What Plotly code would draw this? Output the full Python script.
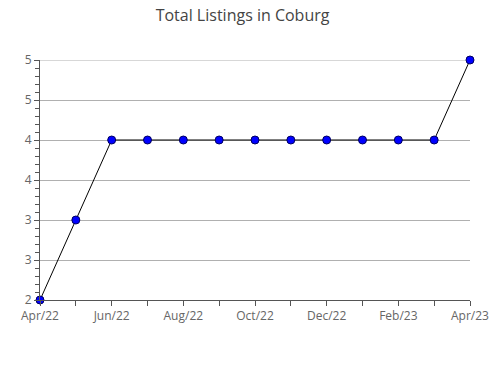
import plotly.graph_objects as go

months = ["Apr/22", "May/22", "Jun/22", "Jul/22", "Aug/22", "Sep/22", "Oct/22",
          "Nov/22", "Dec/22", "Jan/23", "Feb/23", "Mar/23", "Apr/23"]
listings = [2, 3, 4, 4, 4, 4, 4, 4, 4, 4, 4, 4, 5]
y_tickvals = [2, 2.5, 3, 3.5, 4, 4.5, 5]
y_ticktext = ["2", "3", "3", "4", "4", "5", "5"]
x_idx = list(range(len(months)))
x_ticktext = [m if i % 2 == 0 else "" for i, m in enumerate(months)]

fig = go.Figure()
fig.add_trace(go.Scatter(
    x=x_idx, y=listings, mode="lines+markers",
    line=dict(color="black", width=1),
    marker=dict(size=8, color="#0000ff", line=dict(color="#000060", width=1)),
    cliponaxis=False, showlegend=False,
))

# top gridline (plotly hides the gridline at the axis edge)
fig.add_shape(type="line", xref="paper", yref="y", x0=0, x1=1,
              y0=y_tickvals[-1], y1=y_tickvals[-1],
              line=dict(color="#b0b0b0", width=1), layer="below")

fig.update_layout(
    width=490, height=380,
    margin=dict(l=40, r=20, t=60, b=80, autoexpand=False),
    paper_bgcolor="white", plot_bgcolor="white",
    font=dict(family="Open Sans", color="#666666", size=12),
    title=dict(text="Total Listings in Coburg", x=0.495, xanchor="center",
               y=0.96, yanchor="middle",
               font=dict(family="Open Sans", size=16, color="#444444")),
    xaxis=dict(range=[0, 12], tickvals=x_idx, ticktext=x_ticktext,
               ticks="outside", ticklen=5, tickcolor="#555555",
               showline=True, linecolor="#555555", linewidth=1,
               showgrid=False, zeroline=False, fixedrange=True, automargin=False),
    yaxis=dict(range=[2, 5], tickvals=y_tickvals, ticktext=y_ticktext,
               ticks="outside", ticklen=5, tickcolor="#555555",
               showline=True, linecolor="#555555", linewidth=1,
               showgrid=True, gridcolor="#b0b0b0", gridwidth=1,
               zeroline=False, automargin=False,
               minor=dict(dtick=0.1, tick0=2, ticks="outside", ticklen=4,
                          tickcolor="#555555", showgrid=False)),
)

fig.write_html("out.html")
